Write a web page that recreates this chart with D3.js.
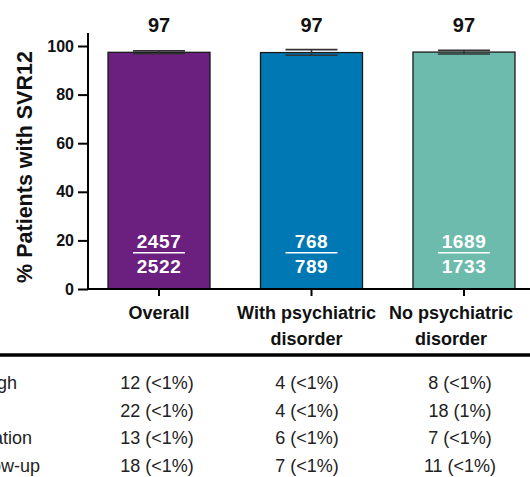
<!DOCTYPE html>
<html><head><meta charset="utf-8">
<script src="https://cdn.jsdelivr.net/npm/d3@7"></script>
<style>
html,body{margin:0;padding:0;background:#fff;overflow:hidden;}
svg{display:block;font-family:"Liberation Sans",Arial,sans-serif;}
</style></head>
<body>
<svg id="chart" width="530" height="477"></svg>
<script>
const categories = ["Overall", "With psychiatric disorder", "No psychiatric disorder"];
const labelLines = [["Overall"], ["With psychiatric", "disorder"], ["No psychiatric", "disorder"]];
const svrPercent = [97.4, 97.3, 97.5];
const ciLow = [96.8, 96.2, 96.7];
const ciHigh = [98.0, 98.5, 98.2];
const topLabels = ["97", "97", "97"];
const numerators = ["2457", "768", "1689"];
const denominators = ["2522", "789", "1733"];
const yTicks = [0, 20, 40, 60, 80, 100];
const rowLabels = ["Breakthrough", "Relapse", "Discontinuation", "Lost to follow-up"];
const tableValues = [
  ["12 (<1%)", "4 (<1%)", "8 (<1%)"],
  ["22 (<1%)", "4 (<1%)", "18 (1%)"],
  ["13 (<1%)", "6 (<1%)", "7 (<1%)"],
  ["18 (<1%)", "7 (<1%)", "11 (<1%)"]
];

const colors = ["#6b1f7e", "#0078b3", "#6dbbad"];
const labelShift = [0, -5, -13];

const svg = d3.select("#chart");
const x = d3.scaleBand().domain(categories).range([108, 515]).paddingInner(0.331).paddingOuter(0);
const y = d3.scaleLinear().domain([0, 100]).range([289, 46]);
const axisX = 88;

// y axis
const yAxis = svg.append("g").attr("transform", `translate(${axisX},0)`)
  .call(d3.axisLeft(y).tickValues(yTicks).tickSize(10).tickPadding(4));
yAxis.select(".domain").remove();
yAxis.selectAll(".tick line").attr("stroke", "#000").attr("stroke-width", 2);
yAxis.selectAll(".tick text").attr("font-size", 16).attr("font-weight", "bold").attr("fill", "#111")
  .attr("font-family", "Liberation Sans, Arial, sans-serif");
svg.append("line").attr("x1", axisX).attr("x2", axisX).attr("y1", 33).attr("y2", y(0) + 1)
  .attr("stroke", "#000").attr("stroke-width", 2);

// bars
svg.selectAll("rect.bar").data(categories).join("rect").attr("class", "bar")
  .attr("x", d => x(d)).attr("width", x.bandwidth())
  .attr("y", (d, i) => y(svrPercent[i])).attr("height", (d, i) => y(0) - y(svrPercent[i]))
  .attr("fill", (d, i) => colors[i]).attr("stroke", "#1a1a1a").attr("stroke-width", 1.3);

// error bars
const capW = 52;
categories.forEach((c, i) => {
  const cx = x(c) + x.bandwidth() / 2;
  const g = svg.append("g").attr("stroke", "#333").attr("stroke-width", 1.6);
  g.append("line").attr("x1", cx).attr("x2", cx).attr("y1", y(ciHigh[i])).attr("y2", y(ciLow[i]));
  g.append("line").attr("x1", cx - capW / 2).attr("x2", cx + capW / 2).attr("y1", y(ciHigh[i])).attr("y2", y(ciHigh[i]));
  g.append("line").attr("x1", cx - capW / 2).attr("x2", cx + capW / 2).attr("y1", y(ciLow[i])).attr("y2", y(ciLow[i]));
  // top label
  svg.append("text").attr("x", cx).attr("y", 32).attr("text-anchor", "middle")
    .attr("font-size", 20).attr("font-weight", "bold").attr("fill", "#111").text(topLabels[i]);
  // fraction
  svg.append("text").attr("x", cx).attr("y", 247.5).attr("text-anchor", "middle")
    .attr("font-size", 19).attr("font-weight", "bold").attr("fill", "#fff").attr("letter-spacing", 0.6)
    .text(numerators[i]);
  svg.append("line").attr("x1", cx - 26).attr("x2", cx + 26).attr("y1", 252.7).attr("y2", 252.7)
    .attr("stroke", "#fff").attr("stroke-width", 1.5);
  svg.append("text").attr("x", cx).attr("y", 273).attr("text-anchor", "middle")
    .attr("font-size", 19).attr("font-weight", "bold").attr("fill", "#fff").attr("letter-spacing", 0.6)
    .text(denominators[i]);
});

// x axis
const xAxis = svg.append("g").attr("transform", `translate(0,${y(0)})`)
  .call(d3.axisBottom(x).tickSize(7).tickFormat(""));
xAxis.select(".domain").remove();
xAxis.selectAll(".tick line").attr("stroke", "#000").attr("stroke-width", 2);
svg.append("line").attr("x1", axisX - 1).attr("x2", 530).attr("y1", y(0)).attr("y2", y(0))
  .attr("stroke", "#000").attr("stroke-width", 2);

// category labels
categories.forEach((c, i) => {
  const cx = x(c) + x.bandwidth() / 2 + labelShift[i];
  labelLines[i].forEach((ln, j) => {
    svg.append("text").attr("x", cx).attr("y", 319 + j * 26).attr("text-anchor", "middle")
      .attr("font-size", 18).attr("font-weight", "bold").attr("fill", "#111").text(ln);
  });
});

// y label
svg.append("text").attr("transform", "translate(25,167) rotate(-90)")
  .attr("text-anchor", "middle").attr("dominant-baseline", "central")
  .attr("font-size", 21.5).attr("font-weight", "bold").attr("fill", "#111")
  .text("% Patients with SVR12");

// table separator
svg.append("line").attr("x1", 0).attr("x2", 530).attr("y1", 355).attr("y2", 355)
  .attr("stroke", "#000").attr("stroke-width", 3.5);

// table rows
const rowY = d3.scalePoint().domain(d3.range(rowLabels.length)).range([383, 466]);
const colX = [157, 307, 460];
rowLabels.forEach((lab, r) => {
  svg.append("text").attr("x", -91).attr("y", rowY(r)).attr("dominant-baseline", "central")
    .attr("font-size", 18).attr("fill", "#222").text(lab);
  tableValues[r].forEach((v, c) => {
    svg.append("text").attr("x", colX[c]).attr("y", rowY(r)).attr("text-anchor", "middle")
      .attr("dominant-baseline", "central").attr("font-size", 18).attr("fill", "#222").text(v);
  });
});
</script>
</body></html>
